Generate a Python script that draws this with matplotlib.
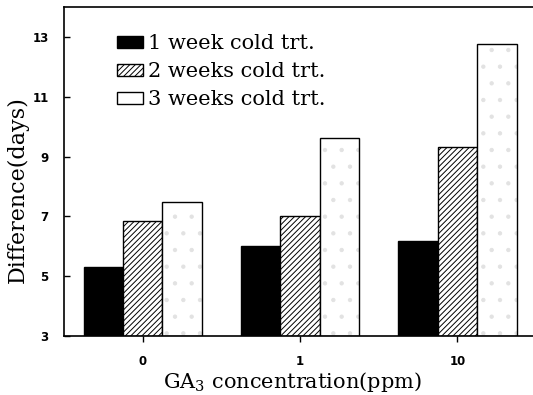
import numpy as np
import matplotlib
matplotlib.use("Agg")
import matplotlib.pyplot as plt
from matplotlib.patches import Patch

# data
concs = ['0', '1', '10']
week1 = [5.3, 6.0, 6.17]
week2 = [6.83, 7.0, 9.33]
week3 = [7.47, 9.63, 12.77]
labels = ['1 week cold trt.', '2 weeks cold trt.', '3 weeks cold trt.']
yticks = [3, 5, 7, 9, 11, 13]

plt.rcParams['font.family'] = ['DejaVu Serif']
plt.rcParams['mathtext.fontset'] = 'dejavuserif'
plt.rcParams['hatch.linewidth'] = 0.7

fig = plt.figure(figsize=(5.33, 3.95), dpi=100)
ax = fig.add_axes([0.120, 0.1494, 0.886, 0.8329])

x = np.arange(len(concs))
w = 0.25
base = 3
b1 = ax.bar(x - w, np.array(week1) - base, w, bottom=base, color='black', edgecolor='black', linewidth=1)
b2 = ax.bar(x, np.array(week2) - base, w, bottom=base, color='white', edgecolor='black', linewidth=1, hatch='//////')
# faint dot texture then outline for the 3 weeks bars
ax.bar(x + w, np.array(week3) - base, w, bottom=base, color='white', edgecolor='#e2e2e2', linewidth=0, hatch='.')
b3 = ax.bar(x + w, np.array(week3) - base, w, bottom=base, color='none', edgecolor='black', linewidth=1)

ax.set_xlim(-0.5, 2.5)
ax.set_ylim(3, 14)
ax.set_xticks(x)
ax.set_xticklabels(concs)
ax.set_yticks(yticks)
ax.set_yticklabels([str(t) for t in yticks])
for lab in ax.get_xticklabels() + ax.get_yticklabels():
    lab.set_family('DejaVu Sans')
    lab.set_fontweight('bold')
    lab.set_fontsize(8.5)
ax.tick_params(axis='y', direction='in', length=4, pad=11, width=1)
ax.tick_params(axis='x', direction='out', length=4, pad=10, width=1)
ax.spines['right'].set_visible(False)
for s in ['left', 'bottom', 'top']:
    ax.spines[s].set_linewidth(1.2)

fig.text(0.034, 0.52, 'Difference(days)', rotation=90, ha='center', va='center', fontsize=16)
fig.text(0.548, 0.033, r'GA$_3$ concentration(ppm)', ha='center', va='center', fontsize=15)

handles = [Patch(facecolor='black', edgecolor='black'),
           Patch(facecolor='white', edgecolor='black', hatch='//////'),
           Patch(facecolor='white', edgecolor='black')]
ax.legend(handles, labels, loc='upper left', bbox_to_anchor=(0.095, 0.942), frameon=False,
          fontsize=15, handlelength=1.25, handleheight=0.55, handletextpad=0.25, labelspacing=0.43,
          borderaxespad=0)

fig.savefig('out.png', dpi=100)
